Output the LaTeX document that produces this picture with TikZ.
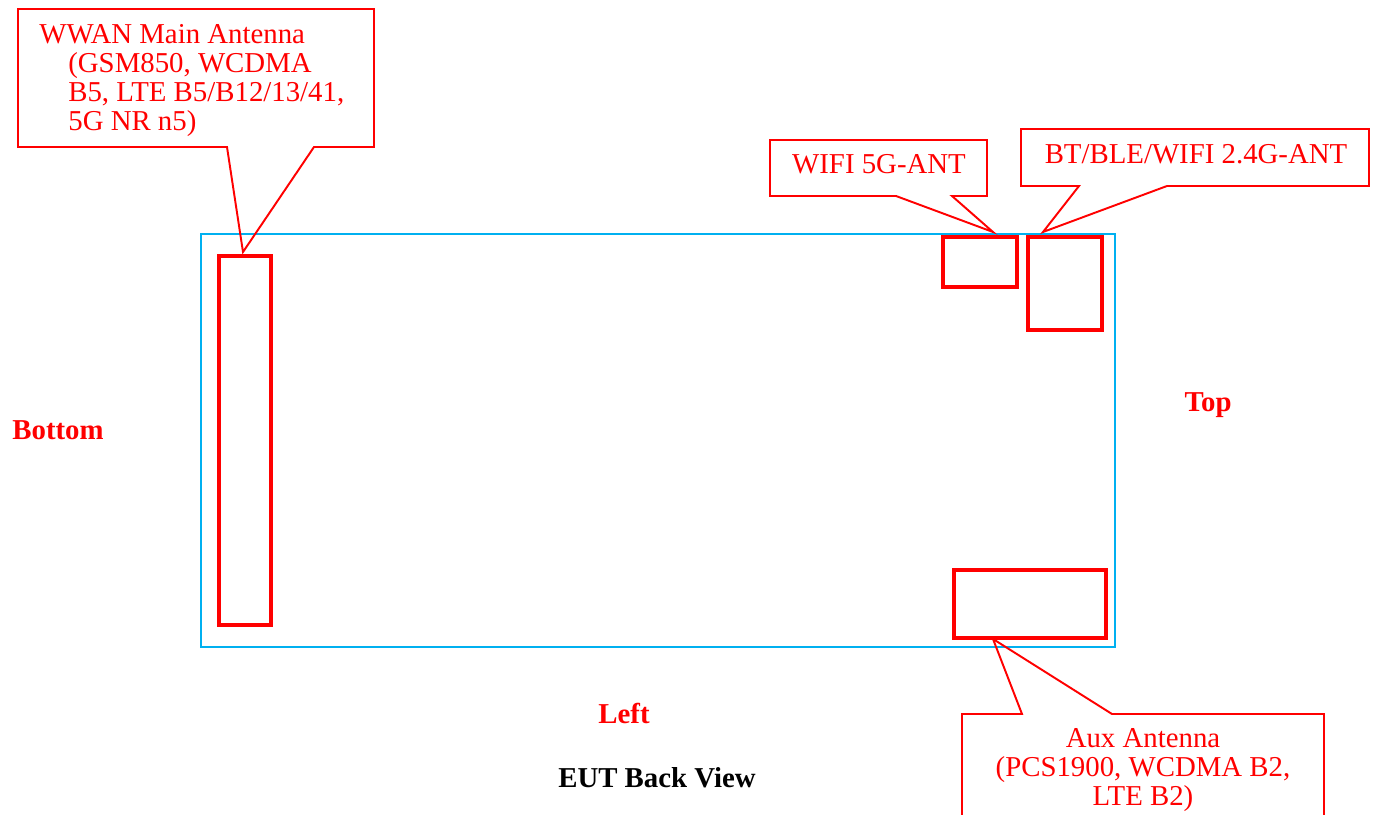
\documentclass[tikz,border=0pt]{standalone}
\usepackage{fontspec}
\setmainfont{Liberation Serif}
\usetikzlibrary{fit}
\definecolor{rimblue}{RGB}{0,176,240}
\begin{document}
\begin{tikzpicture}[x=0.02cm, y=-0.02cm,
  every node/.style={font=\fontsize{16.4}{16.5}\selectfont, inner sep=0pt},
  antbox/.style={draw=red, line width=2.5pt, inner sep=0pt},
  callout/.style={draw=red, line width=1.1pt, line join=miter},
  calltext/.style={text=red},
  side/.style={text=red, font=\fontsize{16.4}{16.5}\selectfont\bfseries}]
\useasboundingbox (0,0) rectangle (1377,815);
\clip (0,0) rectangle (1377,815);

\node[draw=rimblue, line width=1.1pt, fit={(201,234) (1115,647)}] (eut) {};

\node[antbox, fit={(219,256) (271,625)}] (mainant) {};
\node[antbox, fit={(943,237) (1017,287)}] (wifiant) {};
\node[antbox, fit={(1028,237) (1102,330)}] (btant) {};
\node[antbox, fit={(954,570) (1106,638)}] (auxant) {};

\coordinate (maintip) at (243,252);
\coordinate (wifitip) at (993,232);
\coordinate (bttip) at (1043,232);
\coordinate (auxtip) at (993,639);

\draw[callout] (18,9) -- (374,9) -- (374,147) -- (314,147) -- (maintip) -- (227,147) -- (18,147) -- cycle;
\draw[callout] (770,140) -- (987,140) -- (987,196) -- (952,196) -- (wifitip) -- (896,196) -- (770,196) -- cycle;
\draw[callout] (1021,129) -- (1369,129) -- (1369,186) -- (1167,186) -- (bttip) -- (1079,186) -- (1021,186) -- cycle;
\draw[callout] (962,714) -- (1022,714) -- (auxtip) -- (1112,714) -- (1324,714) -- (1324,840) -- (962,840) -- cycle;

\node[calltext, anchor=base west, align=left] (maintxt) at (39,130) {WWAN Main Antenna\\\hspace*{0.58cm}(GSM850, WCDMA\\\hspace*{0.58cm}B5, LTE B5/B12/13/41,\\\hspace*{0.58cm}5G NR n5)};
\node[calltext, anchor=base] (wifitxt) at (879,173) {WIFI 5G-ANT};
\node[calltext, anchor=base] (bttxt) at (1196,163) {BT/BLE/WIFI 2.4G-ANT};
\node[calltext, anchor=base, align=center] (auxtxt) at (1143,805) {Aux Antenna\\(PCS1900, WCDMA B2,\\LTE B2)};

\node[side, anchor=base] (sidebottom) at (58,439) {Bottom};
\node[side, anchor=base] (sidetop) at (1208,411) {Top};
\node[side, anchor=base] (sideleft) at (624,723) {Left};
\node[side, anchor=base, text=black] (title) at (657,787) {EUT Back View};

\end{tikzpicture}
\end{document}
